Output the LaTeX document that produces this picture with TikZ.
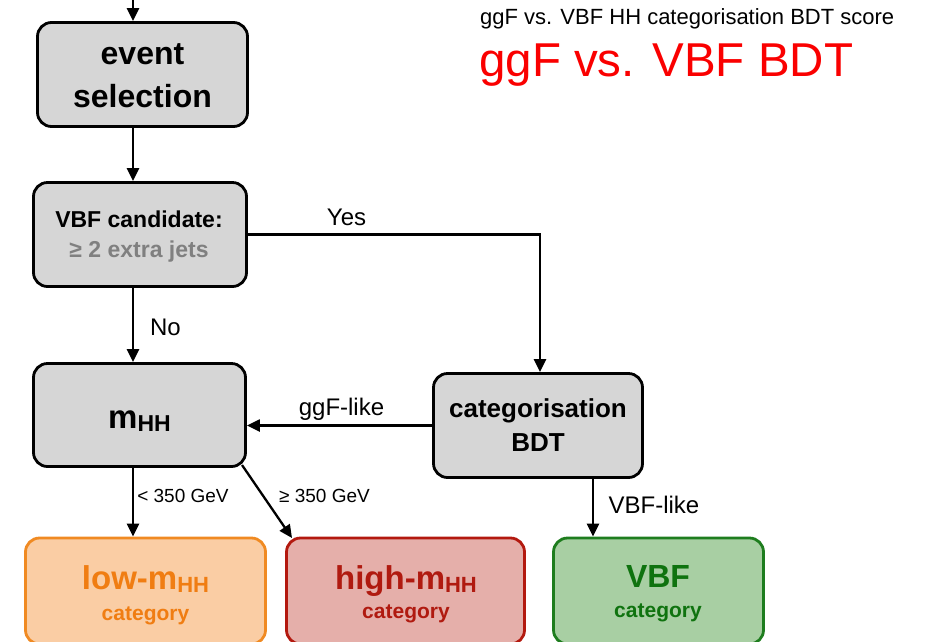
\documentclass[tikz,border=0pt]{standalone}
\usepackage{fontspec}
\setmainfont{Liberation Sans}
\usetikzlibrary{arrows.meta}
\definecolor{boxgray}{HTML}{D6D6D6}
\definecolor{lowfill}{HTML}{FACDA4}
\definecolor{lowline}{HTML}{F08A22}
\definecolor{lowtext}{HTML}{F07D12}
\definecolor{highfill}{HTML}{E5AFAA}
\definecolor{highline}{HTML}{B3190F}
\definecolor{hightext}{HTML}{B01A10}
\definecolor{vbffill}{HTML}{A8CFA3}
\definecolor{vbfline}{HTML}{1E7D1E}
\definecolor{vbftext}{HTML}{0F730F}
\definecolor{jetgray}{HTML}{808080}
\tikzset{
  flowbox/.style={draw=black, line width=2.8pt, fill=boxgray, rounded corners=14pt,
    inner sep=0pt},
  catbox/.style={line width=2.8pt, rounded corners=14pt, inner sep=0pt,
    minimum height=106pt},
  txt/.style={inner sep=0pt, align=center},
  arr/.style={line width=2.3pt, -{Triangle[length=13pt,width=12pt]}},
  lbl/.style={font=\fontsize{24}{28}\selectfont, inner sep=0pt, anchor=base},
  smalllbl/.style={font=\fontsize{19}{22}\selectfont, inner sep=0pt, anchor=base},
}
\begin{document}
\begin{tikzpicture}[x=1pt,y=-1pt]
\useasboundingbox (0,0) rectangle (925,641);
\clip (0,0) rectangle (925,641);

% boxes
\node[flowbox, minimum width=210pt, minimum height=104pt] (event) at (142.5,74.5) {};
\node[flowbox, minimum width=213pt, minimum height=104pt] (vbfc) at (140,234.5) {};
\node[flowbox, minimum width=212pt, minimum height=103pt] (mhh) at (139.5,415) {};
\node[flowbox, minimum width=209pt, minimum height=104pt] (bdt) at (538,425.5) {};
\node[catbox, minimum width=240pt, draw=lowline, fill=lowfill] (low) at (145.5,591) {};
\node[catbox, minimum width=238pt, draw=highline, fill=highfill] (high) at (405.5,591) {};
\node[catbox, minimum width=210pt, draw=vbfline, fill=vbffill] (vbf) at (658.5,591) {};

% box texts
\node[txt, font=\fontsize{32}{43}\selectfont\bfseries] (eventtxt) at (142.5,75.5) {event\\selection};
\node[txt, font=\fontsize{23}{30}\selectfont\bfseries] (vbfctxt) at (139,237)
  {VBF candidate:\\\textcolor{jetgray}{≥ 2 extra jets}};
\node[txt, font=\bfseries] (mhhtxt) at (139.5,421)
  {{\fontsize{33}{36}\selectfont m}\raisebox{-3pt}{\fontsize{23}{26}\selectfont HH}};
\node[txt, font=\fontsize{26}{34}\selectfont\bfseries] (bdttxt) at (538,425) {categorisation\\BDT};
\node[txt, text=lowtext, font=\fontsize{21}{31}\selectfont\bfseries] (lowtxt) at (145.5,595)
  {{\fontsize{33}{31}\selectfont low-m}\raisebox{-3pt}{\fontsize{22}{24}\selectfont HH}\\category};
\node[txt, text=hightext, font=\fontsize{21}{29}\selectfont\bfseries] (hightxt) at (406,594)
  {{\fontsize{33}{29}\selectfont high-m}\raisebox{-3pt}{\fontsize{22}{24}\selectfont HH}\\category};
\node[txt, text=vbftext, font=\fontsize{21}{30}\selectfont\bfseries] (vbftxt) at (658,593.5)
  {{\fontsize{32}{30}\selectfont VBF}\\category};

% titles
\node[anchor=base west, inner sep=0pt, font=\fontsize{22}{26}\selectfont] (t1) at (480,24)
  {ggF vs. VBF HH categorisation BDT score};
\node[anchor=base west, inner sep=0pt, font=\fontsize{47.5}{52}\selectfont, text={rgb,255:red,250;green,0;blue,0}] (t2) at (479,76)
  {ggF vs. VBF BDT};

% helper coordinates
\coordinate (xa) at (133,0);
\coordinate (top) at (133,0);
\coordinate (yes) at (540,0);
\coordinate (dstart) at (242,465);
\coordinate (dend) at (292,538);
\coordinate (xv) at (593,0);

% connectors
\draw[arr] (top) -- (event.north -| xa);
\draw[arr] (event.south -| xa) -- (vbfc.north -| xa);
\draw[arr] (vbfc.south -| xa) -- (mhh.north -| xa);
\draw[arr] (vbfc.east) -- (vbfc.east -| yes) -- (bdt.north -| yes);
\draw[arr] (bdt.west) -- (bdt.west -| mhh.east);
\draw[arr] (mhh.south -| xa) -- (low.north -| xa);
\draw[arr] (dstart) -- (dend);
\draw[arr] (bdt.south -| xv) -- (vbf.north -| xv);

% connector labels
\node[lbl] (yeslbl) at (346.5,225) {Yes};
\node[lbl] (nolbl) at (165.5,335) {No};
\node[lbl] (ggflbl) at (341.5,415) {ggF-like};
\node[lbl] (vbflbl) at (654,513) {VBF-like};
\node[smalllbl] (lowlbl) at (183,502) {< 350 GeV};
\node[smalllbl] (highlbl) at (324.5,502) {≥ 350 GeV};
\end{tikzpicture}
\end{document}
